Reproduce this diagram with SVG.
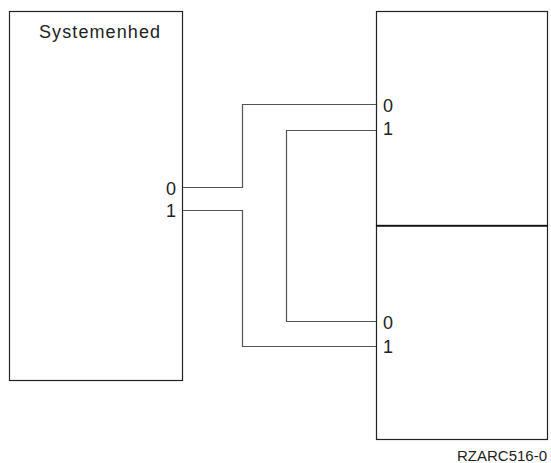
<svg xmlns="http://www.w3.org/2000/svg" width="551" height="463" viewBox="0 0 551 463">
<style>
.box{fill:#fff;stroke:#222;stroke-width:1.2}
.div{stroke:#111;stroke-width:1.6}
.wire{fill:none;stroke:#555;stroke-width:1.2}
text{font-family:"Liberation Sans",Arial,sans-serif;fill:#222}
.lbl{font-size:18px}
</style>
<rect width="551" height="463" fill="#fff"/>
<g id="systemenhed">
<rect class="box" x="9.5" y="11.5" width="173" height="369"/>
<text class="lbl" x="39" y="38" letter-spacing="1.1">Systemenhed</text>
<text class="lbl" x="166" y="195">0</text>
<text class="lbl" x="166" y="217">1</text>
</g>
<g id="enhed-top">
<rect class="box" x="376.5" y="11.5" width="171" height="214"/>
<text class="lbl" x="383" y="112">0</text>
<text class="lbl" x="383" y="135">1</text>
</g>
<g id="enhed-bottom">
<rect class="box" x="376.5" y="225.5" width="171" height="214"/>
<line class="div" x1="376" y1="226" x2="548" y2="226"/>
<text class="lbl" x="383" y="329">0</text>
<text class="lbl" x="383" y="353">1</text>
</g>
<g id="connectors">
<polyline class="wire" points="183,187.5 242.5,187.5 242.5,104.5 376,104.5"/>
<polyline class="wire" points="183,210.5 242.5,210.5 242.5,346.5 376,346.5"/>
<polyline class="wire" points="376,130.5 286.5,130.5 286.5,321.5 376,321.5"/>
</g>
<text x="457" y="461" font-size="15">RZARC516-0</text>
</svg>
